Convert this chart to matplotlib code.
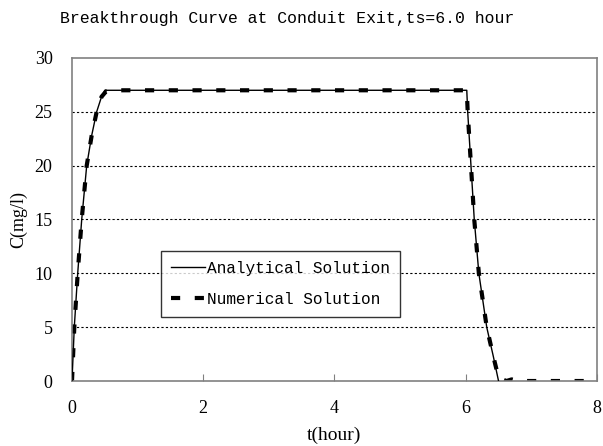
import matplotlib
matplotlib.use("Agg")
import matplotlib.pyplot as plt

# Analytical solution
t_ana = [0.0, 0.035, 0.087, 0.148, 0.224, 0.30, 0.376, 0.45, 0.50, 3.0, 6.0, 6.016, 6.03, 6.08, 6.13, 6.20, 6.32, 6.42, 6.50]
c_ana = [0.0, 5.0, 10.0, 15.0, 20.0, 22.8, 25.0, 26.4, 27.0, 27.0, 27.0, 27.0, 25.0, 20.0, 15.0, 10.0, 5.0, 2.3, 0.0]

# Numerical solution
t_num = [0.0, 0.035, 0.087, 0.148, 0.224, 0.30, 0.376, 0.45, 0.52, 0.7, 3.0, 6.0, 6.016, 6.03, 6.08, 6.13, 6.20, 6.32, 6.42, 6.50, 6.62, 6.70, 6.80, 8.0]
c_num = [0.0, 5.0, 10.0, 15.0, 20.0, 22.8, 25.0, 26.4, 26.9, 27.0, 27.0, 27.0, 27.0, 25.0, 20.0, 15.0, 10.0, 5.0, 2.3, 0.3, 0.0, 0.15, 0.0, 0.0]

x_ticks = [0, 2, 4, 6, 8]
y_ticks = [0, 5, 10, 15, 20, 25, 30]

fig = plt.figure(figsize=(6.03, 4.46), dpi=100)
ax = fig.add_axes([0.1194, 0.1457, 0.8706, 0.7243])

for y in y_ticks[1:-1]:
    ax.axhline(y, color='black', linestyle=(0, (2, 2)), linewidth=0.8, zorder=1)

ax.plot(t_ana, c_ana, color='black', linewidth=1.0, label='Analytical Solution', zorder=3)
ax.plot(t_num, c_num, color='black', linewidth=3.0, linestyle=(0, (2.2, 3.5)), label='Numerical Solution', zorder=2)

ax.set_xlim(0, 8)
ax.set_ylim(0, 30)
ax.set_xticks(x_ticks)
ax.set_yticks(y_ticks)
serif = 'Liberation Serif'
mono = 'Liberation Mono'
ax.set_xticklabels([str(v) for v in x_ticks], fontfamily=serif, fontsize=13)
ax.set_yticklabels([str(v) for v in y_ticks], fontfamily=serif, fontsize=13)
ax.tick_params(axis='x', direction='in', length=5, color='#808080', pad=14)
ax.tick_params(axis='y', length=0, pad=14)
for s in ax.spines.values():
    s.set_color('#808080')
    s.set_linewidth(1.2)

fig.text(287 / 603, 1 - 19 / 446, 'Breakthrough Curve at Conduit Exit,ts=6.0 hour',
         fontfamily=mono, fontsize=11.9, ha='center', va='center')
ax.set_xlabel('t(hour)', fontfamily=serif, fontsize=14, labelpad=7)
ax.set_ylabel('C(mg/l)', fontfamily=serif, fontsize=13, labelpad=5)

leg = ax.legend(loc='upper left', bbox_to_anchor=(0.170, 0.402), prop={'family': mono, 'size': 11.6},
                frameon=True, fancybox=False, edgecolor='black', handlelength=2.1,
                borderpad=0.6, labelspacing=1.0, handletextpad=0.15, borderaxespad=0)
leg.get_frame().set_linewidth(1.0)

fig.savefig('out.png', dpi=100)
